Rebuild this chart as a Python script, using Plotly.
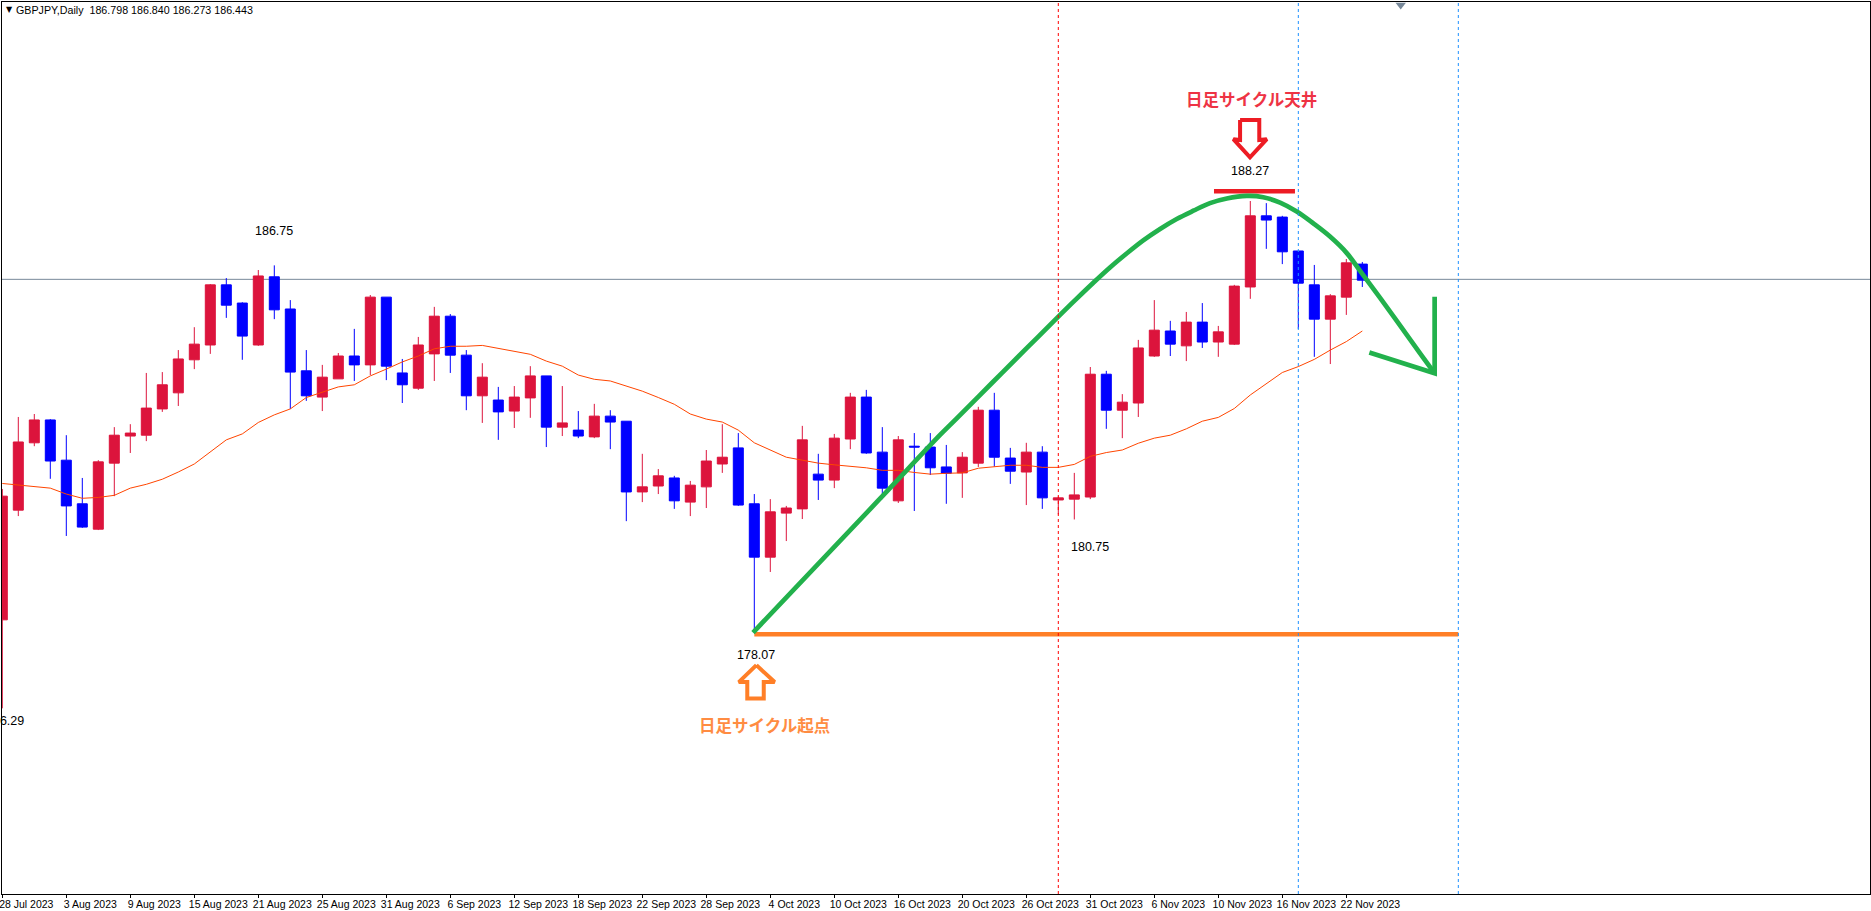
import plotly.graph_objects as go

# daily candles (index = bars from 28 Jul 2023)
opens = [178.38, 180.97, 182.56, 183.10, 182.15, 181.12, 180.52, 182.08, 182.72, 182.74,
         183.36, 183.74, 184.52, 184.87, 186.29, 185.86, 184.87, 186.48, 185.72, 184.26,
         183.64, 184.07, 184.61, 184.40, 186.00, 184.21, 183.85, 184.66, 185.55, 184.63,
         183.67, 183.57, 183.31, 183.62, 184.14, 182.93, 182.86, 182.70, 183.19, 183.07,
         181.40, 181.54, 181.73, 181.16, 181.52, 182.06, 182.44, 181.12, 179.86, 180.90,
         181.00, 181.82, 181.68, 182.65, 183.64, 182.34, 181.19, 182.48, 182.46, 181.99,
         181.85, 182.08, 183.33, 182.20, 181.87, 182.34, 181.21, 181.23, 181.28, 184.18,
         183.33, 183.50, 184.61, 185.20, 184.85, 185.41, 184.94, 184.89, 186.24, 187.92,
         187.89, 187.09, 186.29, 185.48, 186.00, 186.78]
highs = [181.47, 183.17, 183.24, 183.12, 182.74, 181.73, 182.15, 182.93, 183.00, 184.21,
         184.23, 184.75, 185.29, 186.31, 186.45, 185.88, 186.64, 186.75, 185.93, 184.75,
         184.40, 184.68, 185.25, 186.05, 186.00, 184.54, 185.06, 185.77, 185.60, 184.75,
         184.44, 183.88, 183.90, 184.37, 184.14, 183.90, 183.31, 183.48, 183.33, 183.07,
         182.30, 181.94, 181.78, 181.66, 182.39, 183.00, 182.79, 181.35, 181.23, 181.07,
         182.96, 182.30, 182.77, 183.74, 183.81, 182.93, 182.72, 182.79, 182.79, 182.51,
         182.34, 183.41, 183.74, 182.44, 182.56, 182.48, 181.29, 181.85, 184.35, 184.26,
         183.71, 184.99, 185.93, 185.44, 185.65, 185.86, 185.32, 186.29, 188.27, 188.22,
         187.92, 187.09, 186.76, 186.07, 186.90, 186.83]
lows = [176.29, 180.83, 182.48, 181.71, 180.36, 180.55, 180.50, 181.30, 182.32, 182.60,
        183.29, 183.43, 184.30, 184.66, 185.51, 184.52, 184.85, 185.48, 183.36, 183.55,
        183.31, 184.07, 184.02, 184.16, 184.04, 183.50, 183.81, 184.02, 184.21, 183.33,
        183.03, 182.63, 182.91, 183.15, 182.46, 182.72, 182.67, 182.67, 182.41, 180.71,
        181.16, 181.35, 181.00, 180.83, 181.02, 181.85, 181.07, 178.07, 179.51, 180.24,
        180.76, 181.21, 181.49, 182.41, 182.30, 181.23, 181.14, 180.95, 181.80, 181.12,
        181.26, 181.99, 182.00, 181.59, 181.09, 181.00, 180.87, 180.75, 181.23, 182.89,
        182.67, 183.17, 184.59, 184.61, 184.49, 184.80, 184.59, 184.87, 185.96, 187.14,
        186.78, 185.25, 184.59, 184.42, 185.58, 186.24]
closes = [181.30, 182.58, 183.10, 182.13, 181.07, 180.57, 182.11, 182.74, 182.79, 183.38,
          183.93, 184.54, 184.89, 186.29, 185.81, 185.08, 186.50, 185.70, 184.23, 183.67,
          184.11, 184.61, 184.40, 186.00, 184.37, 183.93, 184.87, 185.55, 184.63, 183.67,
          184.11, 183.29, 183.64, 184.14, 182.93, 183.03, 182.72, 183.19, 183.05, 181.40,
          181.52, 181.78, 181.19, 181.56, 182.13, 182.22, 181.09, 179.86, 180.93, 181.02,
          182.63, 181.68, 182.67, 183.64, 182.32, 181.49, 182.63, 182.46, 181.97, 181.84,
          182.22, 183.33, 182.22, 181.89, 182.34, 181.26, 181.26, 181.33, 184.18, 183.33,
          183.52, 184.80, 185.22, 184.89, 185.41, 184.94, 185.18, 186.26, 187.92, 187.82,
          187.07, 186.33, 185.48, 186.03, 186.81, 186.40]
ma_line = [181.60, 181.56, 181.53, 181.49, 181.35, 181.25, 181.27, 181.32, 181.49, 181.58,
           181.70, 181.87, 182.06, 182.34, 182.63, 182.77, 183.04, 183.22, 183.36, 183.63,
           183.76, 183.88, 183.93, 184.14, 184.30, 184.47, 184.61, 184.78, 184.84, 184.84,
           184.86, 184.79, 184.73, 184.65, 184.49, 184.37, 184.16, 184.06, 184.02, 183.90,
           183.78, 183.63, 183.47, 183.24, 183.12, 183.05, 182.86, 182.56, 182.39, 182.22,
           182.15, 182.08, 182.04, 182.00, 181.97, 181.91, 181.91, 181.86, 181.82, 181.84,
           181.85, 181.96, 182.00, 182.03, 182.03, 181.98, 181.98, 182.05, 182.24, 182.33,
           182.39, 182.55, 182.67, 182.74, 182.89, 183.07, 183.16, 183.37, 183.69, 183.96,
           184.22, 184.36, 184.53, 184.75, 184.95, 185.20]
bars = list(range(len(closes)))

date_ticks = list(range(0, 85, 4))
date_labels = ["28 Jul 2023", "3 Aug 2023", "9 Aug 2023", "15 Aug 2023", "21 Aug 2023", "25 Aug 2023",
               "31 Aug 2023", "6 Sep 2023", "12 Sep 2023", "18 Sep 2023", "22 Sep 2023", "28 Sep 2023",
               "4 Oct 2023", "10 Oct 2023", "16 Oct 2023", "20 Oct 2023", "26 Oct 2023", "31 Oct 2023",
               "6 Nov 2023", "10 Nov 2023", "16 Nov 2023", "22 Nov 2023"]

# hand drawn overlays, in bars / price
arc_x = [46.92, 54.78, 58.61, 59.59, 61.82, 64.04, 66.11, 67.15, 68.19, 69.23, 70.27, 71.31,
         72.36, 73.40, 74.44, 75.48, 76.53, 77.78, 78.81, 79.86, 80.90, 81.94, 82.98, 84.03,
         84.86, 87.04, 88.61, 89.52]
arc_y = [178.08, 181.21, 182.745, 183.115, 183.96, 184.80, 185.58, 185.965, 186.34, 186.70, 187.03, 187.34,
         187.61, 187.845, 188.04, 188.22, 188.33, 188.39, 188.36, 188.23, 188.02, 187.74, 187.43, 187.04,
         186.62, 185.50, 184.67, 184.20]
head_x = [89.52, 89.52, 85.44]
head_y = [186.01, 184.20, 184.69]
base_x = [47, 91]
base_y = [178.04, 178.04]
top_x = [75.73, 80.79]
top_y = [188.50, 188.50]
down_arrow_x = [77.36, 78.56, 78.56, 79.03, 77.98, 76.94, 77.36, 77.36]
down_arrow_y = [190.18, 190.18, 189.71, 189.73, 189.30, 189.73, 189.71, 190.18]
up_arrow_x = [47.13, 48.27, 47.59, 47.59, 46.56, 46.56, 46.03, 47.13]
up_arrow_y = [177.31, 176.91, 176.91, 176.52, 176.52, 176.91, 176.91, 177.31]

bid_price = 186.42
red_vline = 66
blue_vlines = [81, 91]

# x -> px is 2.3 + 16*bar, y -> px is 201 + 42.35*(188.27 - price)
x_range = [-0.019, 116.73]
y_range = [171.906, 192.969]

UP = "#DC143C"
DOWN = "#0000FF"
GREEN = "#22B14C"
ORANGE = "#FF7F27"
RED = "#ED1C24"

fig = go.Figure()

fig.add_trace(go.Candlestick(
    x=bars, open=opens, high=highs, low=lows, close=closes,
    increasing=dict(line=dict(color=UP, width=1), fillcolor=UP),
    decreasing=dict(line=dict(color=DOWN, width=1), fillcolor=DOWN),
    whiskerwidth=0,
))
fig.add_trace(go.Scatter(x=bars, y=ma_line, mode="lines", line=dict(color="#FF4500", width=1)))


def add_stroke(xs, ys, color, width, shape="linear"):
    fig.add_trace(go.Scatter(x=xs, y=ys, mode="lines",
                             line=dict(color=color, width=width, shape=shape)))


add_stroke(base_x, base_y, ORANGE, 4.7)
add_stroke(top_x, top_y, RED, 4.7)
add_stroke(arc_x, arc_y, GREEN, 4.7, "spline")
add_stroke(head_x, head_y, GREEN, 4.7)
add_stroke(down_arrow_x, down_arrow_y, RED, 4)
add_stroke(up_arrow_x, up_arrow_y, ORANGE, 4)

# chart shift marker on the top edge
fig.add_trace(go.Scatter(x=[87.4], y=[192.9], mode="markers", cliponaxis=False,
                         marker=dict(symbol="triangle-down", size=9, color="#778899")))

fig.add_hline(y=bid_price, line=dict(color="#778899", width=1), layer="below")
fig.add_vline(x=red_vline, line=dict(color="#FF0000", width=1, dash="3px,3px"))
for v in blue_vlines:
    fig.add_vline(x=v, line=dict(color="#1E90FF", width=1, dash="3px,3px"))

# price labels on the swing points
price_labels = [(17, 187.55, "186.75"), (78, 188.98, "188.27"), (47.1, 177.55, "178.07"),
                (68, 180.09, "180.75"), (0.15, 176.00, "176.29")]
for x, y, txt in price_labels:
    fig.add_annotation(x=x, y=y, text=txt, showarrow=False, xanchor="center", yanchor="middle",
                       font=dict(family="Liberation Sans", size=12.5, color="#000000"))

fig.add_annotation(x=78.1, y=190.67, text="<b>日足サイクル天井</b>", showarrow=False,
                   font=dict(family="Noto Sans CJK JP", size=16.5, color="#EE3344"))
fig.add_annotation(x=47.63, y=175.89, text="<b>日足サイクル起点</b>", showarrow=False,
                   font=dict(family="Noto Sans CJK JP", size=16.5, color="#FF8C42"))

fig.add_annotation(xref="paper", yref="paper", x=0.001, y=0.9915, xanchor="left", yanchor="middle",
                   text="▼", showarrow=False, font=dict(family="DejaVu Sans", size=8, color="#000000"))
fig.add_annotation(xref="paper", yref="paper", x=0.0065, y=0.9915, xanchor="left", yanchor="middle",
                   text="GBPJPY,Daily  186.798 186.840 186.273 186.443", showarrow=False,
                   font=dict(family="Liberation Sans", size=10.7, color="#000000"))

fig.update_layout(
    width=1871, height=911,
    margin=dict(l=2, r=1, t=2, b=17, pad=0, autoexpand=False),
    paper_bgcolor="#FFFFFF", plot_bgcolor="#FFFFFF",
    showlegend=False, boxgap=0.375, boxgroupgap=0,
    xaxis=dict(range=x_range, rangeslider=dict(visible=False), showgrid=False, zeroline=False,
               tickmode="array", tickvals=date_ticks, ticktext=date_labels, tickangle=0,
               ticks="outside", ticklen=3, tickcolor="#000000", tickwidth=1,
               ticklabelshift=24, ticklabelstandoff=-3, ticklabeloverflow="allow",
               tickfont=dict(family="Liberation Sans", size=10.5, color="#000000"),
               showline=True, linecolor="#000000", linewidth=1, mirror=True),
    yaxis=dict(range=y_range, side="right", showgrid=False, zeroline=False, showticklabels=False,
               tick0=171.977, dtick=0.782, ticks="outside", ticklen=2, tickcolor="#000000", tickwidth=1,
               showline=True, linecolor="#000000", linewidth=1, mirror=True),
)

fig.write_html("out.html", config=dict(displayModeBar=False),
               post_script="document.body.style.margin='0';document.documentElement.style.overflow='hidden';")
